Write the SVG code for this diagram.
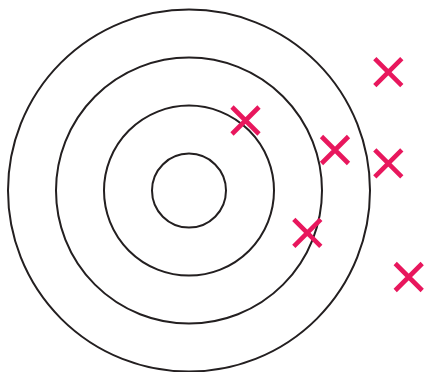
<svg xmlns="http://www.w3.org/2000/svg" width="425" height="372" viewBox="0 0 425 372">
<defs>
<style>
.ring{fill:none;stroke:#231F20;stroke-width:2}
.x{stroke:#E8175D;stroke-width:4.6;fill:none}
</style>
<g id="cross"><path class="x" d="M-13.5,-13.5L13.5,13.5M-13.5,13.5L13.5,-13.5"/></g>
</defs>
<rect width="425" height="372" fill="#fff"/>
<g id="target">
<circle class="ring" cx="189" cy="190.6" r="181"/>
<circle class="ring" cx="189" cy="190.6" r="133"/>
<circle class="ring" cx="189" cy="190.6" r="85"/>
<circle class="ring" cx="189" cy="190.6" r="37"/>
</g>
<g id="hits">
<use href="#cross" x="245.5" y="120.5"/>
<use href="#cross" x="335" y="150"/>
<use href="#cross" x="388.3" y="72.2"/>
<use href="#cross" x="388.3" y="163.3"/>
<use href="#cross" x="307.3" y="232.8"/>
<use href="#cross" x="408.7" y="277"/>
</g>
</svg>
